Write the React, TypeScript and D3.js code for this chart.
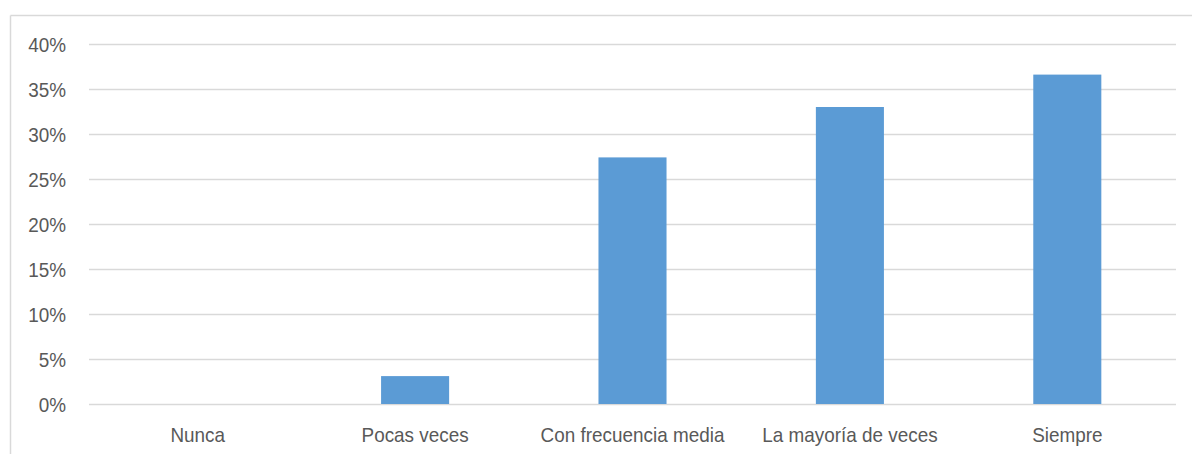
import React, { useEffect, useRef } from "react";
import * as d3 from "d3";

const categories = ["Nunca", "Pocas veces", "Con frecuencia media", "La mayoría de veces", "Siempre"];
const values = [0, 3.1, 27.4, 33.0, 36.6];
const yTicks = [0, 5, 10, 15, 20, 25, 30, 35, 40];

const W = 1192;
const H = 454;
const FONT = "'Liberation Sans Narrow', 'Arial Narrow', 'Liberation Sans', Arial, sans-serif";
const SX = 0.9;

export default function App() {
  const ref = useRef<SVGSVGElement>(null);

  useEffect(() => {
    const svg = d3.select(ref.current);
    svg.selectAll("*").remove();

    const x = d3.scaleBand<string>().domain(categories).range([89, 1176]).paddingInner(0.687).paddingOuter(0.3435);
    const y = d3.scaleLinear().domain([0, 40]).range([404, 44]);

    svg.append("rect").attr("width", W).attr("height", H).attr("fill", "#fff");
    svg.append("line").attr("x1", 10.5).attr("x2", W).attr("y1", 15.5).attr("y2", 15.5).attr("stroke", "#d9d9d9").attr("stroke-width", 1.5);
    svg.append("line").attr("x1", 10.5).attr("x2", 10.5).attr("y1", 15.5).attr("y2", H).attr("stroke", "#d9d9d9").attr("stroke-width", 1.5);

    svg.append("g").selectAll("line").data(yTicks).join("line")
      .attr("x1", 89).attr("x2", 1176)
      .attr("y1", d => Math.round(y(d)) + 0.5).attr("y2", d => Math.round(y(d)) + 0.5)
      .attr("stroke", "#d9d9d9").attr("stroke-width", 1.3);

    svg.append("g").selectAll("text").data(yTicks).join("text")
      .attr("transform", d => `translate(66,${y(d)}) scale(${SX},1)`)
      .attr("dy", "0.36em")
      .attr("text-anchor", "end").attr("fill", "#595959")
      .style("font-family", FONT).style("font-size", "21px")
      .text(d => `${d}%`);

    svg.append("g").selectAll("rect").data(values).join("rect")
      .attr("x", (_, i) => x(categories[i])!)
      .attr("width", x.bandwidth())
      .attr("y", d => y(d))
      .attr("height", d => y(0) - y(d))
      .attr("fill", "#5b9bd5");

    svg.append("g").selectAll("text").data(categories).join("text")
      .attr("transform", d => `translate(${x(d)! + x.bandwidth() / 2},434) scale(${SX},1)`)
      .attr("dy", "0.36em")
      .attr("text-anchor", "middle").attr("fill", "#595959")
      .style("font-family", FONT).style("font-size", "21px")
      .text(d => d);
  }, []);

  return (
    <svg ref={ref} width={W} height={H} style={{ position: "absolute", left: 0, top: 0, display: "block" }} />
  );
}
